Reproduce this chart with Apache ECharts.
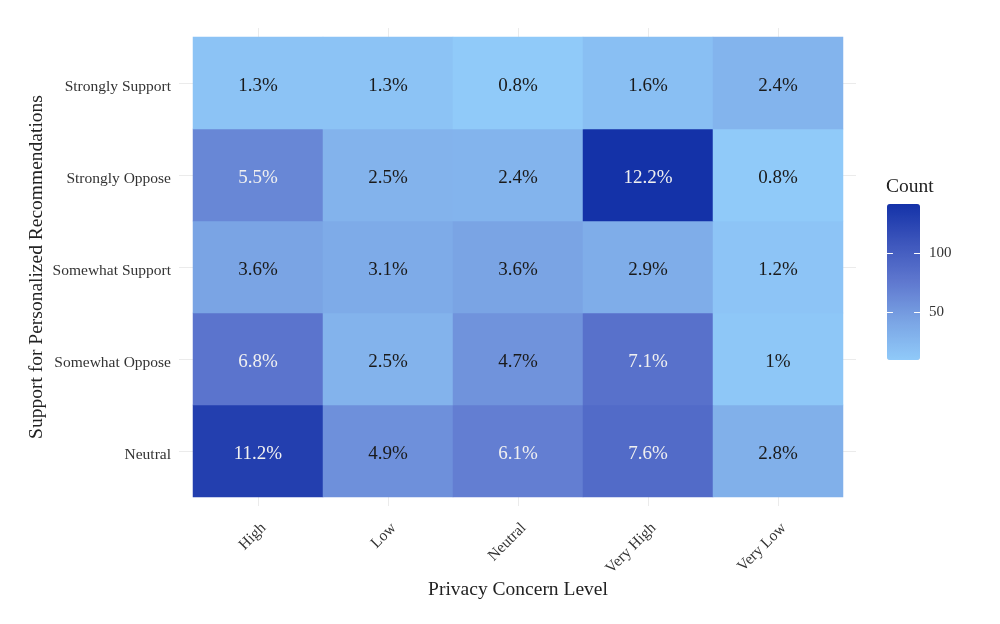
<!DOCTYPE html>
<html>
<head>
<meta charset="utf-8">
<script src="https://cdn.jsdelivr.net/npm/echarts@6/dist/echarts.min.js"></script>
<style>html,body{margin:0;padding:0;background:#fff}#c{width:1000px;height:624px}</style>
</head>
<body>
<div id="c"></div>
<script>
const xCats = ['High', 'Low', 'Neutral', 'Very High', 'Very Low'];
const yCats = ['Neutral', 'Somewhat Oppose', 'Somewhat Support', 'Strongly Oppose', 'Strongly Support'];
// counts per y category (row), in xCats order
const countNeutral         = [130, 57, 71, 88, 32];
const countSomewhatOppose  = [79, 29, 55, 82, 12];
const countSomewhatSupport = [42, 36, 42, 34, 14];
const countStronglyOppose  = [64, 29, 28, 142, 9];
const countStronglySupport = [15, 15, 9, 19, 28];
// percentage labels per row
const pctNeutral         = ['11.2%', '4.9%', '6.1%', '7.6%', '2.8%'];
const pctSomewhatOppose  = ['6.8%', '2.5%', '4.7%', '7.1%', '1%'];
const pctSomewhatSupport = ['3.6%', '3.1%', '3.6%', '2.9%', '1.2%'];
const pctStronglyOppose  = ['5.5%', '2.5%', '2.4%', '12.2%', '0.8%'];
const pctStronglySupport = ['1.3%', '1.3%', '0.8%', '1.6%', '2.4%'];
const legendTicks = [50, 100];

const countRows = [countNeutral, countSomewhatOppose, countSomewhatSupport, countStronglyOppose, countStronglySupport];
const pctRows = [pctNeutral, pctSomewhatOppose, pctSomewhatSupport, pctStronglyOppose, pctStronglySupport];

const FONT = "'Liberation Serif', 'DejaVu Serif', serif";
const cMin = 9, cMax = 142;

const data = [];
countRows.forEach((row, yi) => {
  row.forEach((c, xi) => {
    data.push({
      value: [xi, yi, c],
      label: { formatter: pctRows[yi][xi], color: c >= 60 ? '#F0F0F0' : '#1A1A1A' }
    });
  });
});

// legend tick segments (inside both edges of the colour bar), in legend-axis units
const tickLines = [];
legendTicks.forEach(v => {
  tickLines.push([{ coord: [0, v] }, { coord: [0.18, v] }]);
  tickLines.push([{ coord: [0.82, v] }, { coord: [1, v] }]);
});

const gridLine = { show: true, lineStyle: { color: '#EBEBEB', width: 1 } };
const hidden = { show: false };

const chart = echarts.init(document.getElementById('c'));
chart.setOption({
  backgroundColor: '#fff',
  animation: false,
  textStyle: { fontFamily: FONT },
  title: {
    text: 'Count', left: 886, top: 177, padding: 0,
    textStyle: { fontFamily: FONT, fontSize: 19.5, fontWeight: 'normal', color: '#222' }
  },
  grid: [
    { left: 193, right: 157, top: 37, bottom: 127 },
    { left: 258, right: 222, top: 28, bottom: 118 },
    { left: 179, right: 144, top: 83, bottom: 173 },
    { left: 887, right: 80, top: 204, bottom: 264 }
  ],
  xAxis: [
    {
      gridIndex: 0, type: 'category', data: xCats,
      axisLine: hidden, axisTick: hidden, splitLine: hidden,
      axisLabel: { rotate: 45, margin: 23, align: 'right', verticalAlign: 'top', fontFamily: FONT, fontSize: 15.5, color: '#333' },
      name: 'Privacy Concern Level', nameLocation: 'middle', nameGap: 83, nameMoveOverlap: false,
      nameTextStyle: { fontFamily: FONT, fontSize: 19.5, color: '#222' }
    },
    {
      gridIndex: 1, type: 'category', data: xCats, boundaryGap: false,
      axisLine: hidden, axisTick: hidden, axisLabel: hidden, splitLine: gridLine
    },
    { gridIndex: 2, type: 'value', show: false },
    { gridIndex: 3, type: 'value', min: 0, max: 1, show: false }
  ],
  yAxis: [
    {
      gridIndex: 0, type: 'category', data: yCats,
      axisLine: hidden, axisTick: hidden, splitLine: hidden,
      axisLabel: {
        margin: 22, formatter: '{v|{value}}',
        rich: { v: { padding: [8, 0, 0, 0], fontFamily: FONT, fontSize: 15.5, color: '#333' } }
      },
      name: 'Support for Personalized Recommendations', nameLocation: 'middle', nameGap: 146, nameMoveOverlap: false,
      nameTextStyle: { fontFamily: FONT, fontSize: 19.5, color: '#222' }
    },
    { gridIndex: 1, type: 'value', show: false },
    {
      gridIndex: 2, type: 'category', data: yCats, boundaryGap: false,
      axisLine: hidden, axisTick: hidden, axisLabel: hidden, splitLine: gridLine
    },
    {
      gridIndex: 3, type: 'value', min: cMin, max: cMax, position: 'right',
      axisLine: hidden, splitLine: hidden, axisTick: hidden,
      axisLabel: { show: true, margin: 9, customValues: legendTicks, fontFamily: FONT, fontSize: 15, color: '#333' }
    }
  ],
  visualMap: {
    type: 'continuous', min: cMin, max: cMax, dimension: 2, seriesIndex: 0,
    left: 887, top: 204, padding: 0, itemWidth: 33, itemHeight: 156, z: 1,
    calculable: false, hoverLink: false, text: null, showLabel: false,
    inRange: { color: ['#90CAF9', '#7AA4E4', '#5F78CF', '#3D56BC', '#1432A8'] }
  },
  series: [
    {
      type: 'heatmap', xAxisIndex: 0, yAxisIndex: 0, data: data, z: 3,
      label: { show: true, fontFamily: FONT, fontSize: 19, offset: [0, 3] },
      itemStyle: { borderWidth: 0 },
      emphasis: { disabled: true }
    },
    {
      type: 'line', xAxisIndex: 3, yAxisIndex: 3, data: [], z: 10, silent: true,
      markLine: {
        silent: true, symbol: 'none', z: 10, animation: false,
        label: { show: false },
        lineStyle: { color: '#FFFFFF', width: 1, type: 'solid' },
        emphasis: { disabled: true },
        data: tickLines
      }
    }
  ]
});
</script>
</body>
</html>
